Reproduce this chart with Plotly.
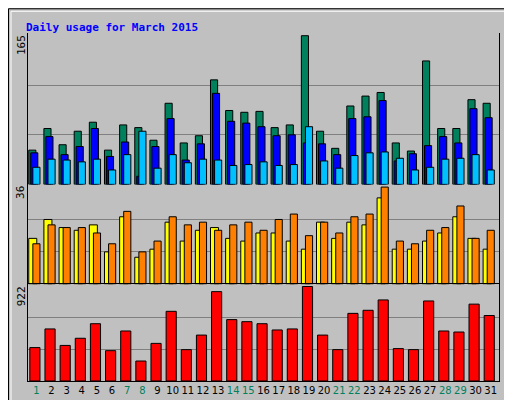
import plotly.graph_objects as go

days = list(range(1, 32))
weekend = [1, 7, 8, 14, 15, 21, 22, 28, 29]

hits = [38, 62, 44, 59, 69, 38, 66, 63, 49, 90, 46, 54, 116, 82, 80, 81,
        63, 66, 165, 59, 40, 87, 98, 102, 46, 37, 137, 62, 62, 94, 90]
files = [35, 53, 33, 42, 62, 31, 47, 9, 42, 73, 27, 45, 101, 70, 68, 64,
         54, 55, 46, 45, 33, 73, 75, 93, 26, 34, 43, 53, 46, 84, 74]
pages = [19, 28, 27, 25, 28, 16, 33, 59, 18, 33, 24, 28, 27, 21, 22, 25,
         21, 22, 64, 26, 18, 32, 35, 36, 29, 16, 19, 28, 29, 33, 16]
sites = [17, 24, 21, 20, 22, 12, 25, 10, 13, 23, 16, 20, 21, 17, 16, 19,
         19, 16, 13, 23, 17, 23, 22, 32, 13, 13, 16, 19, 25, 17, 13]
visits = [15, 22, 21, 21, 19, 15, 27, 12, 16, 25, 22, 23, 20, 22, 23, 20,
          24, 26, 18, 23, 19, 25, 26, 36, 16, 15, 20, 21, 29, 17, 20]
kbytes = [326, 508, 347, 417, 559, 296, 488, 195, 367, 680, 306, 448, 872, 599, 579, 559,
          498, 508, 922, 448, 306, 660, 690, 791, 316, 306, 781, 488, 478, 750, 639]

GREEN = "#00805C"
line = dict(color="black", width=1)

fig = go.Figure()
def bars(vals, color, off, w, axis):
    fig.add_trace(go.Bar(x=days, y=vals, offset=off, width=w, marker_color=color,
                         marker_line=line, xaxis="x", yaxis=axis, hoverinfo="y"))

bars(hits, GREEN, -0.5, 0.47, "y")
bars(files, "#0000FF", -0.37, 0.47, "y")
bars(pages, "#00C0FF", -0.23, 0.47, "y")
bars(sites, "#FFFF00", -0.5, 0.53, "y2")
bars(visits, "#FF8000", -0.23, 0.47, "y2")
bars(kbytes, "#FF0000", -0.43, 0.67, "y3")

ticktext = [f"<span style='color:{GREEN}'>{d}</span>" if d in weekend else str(d) for d in days]

yax = dict(showticklabels=False, showgrid=True, gridcolor="#808080", gridwidth=1,
           zeroline=False, showline=True, linecolor="black", mirror=True, ticks="")
fig.update_layout(
    width=512, height=400, barmode="overlay", showlegend=False,
    paper_bgcolor="#C0C0C0", plot_bgcolor="#C0C0C0",
    margin=dict(l=20, r=21, t=25, b=23),
    xaxis=dict(range=[0.45, 31.55], tickvals=days, ticktext=ticktext, showline=True,
               linecolor="black", mirror=True, showgrid=False, ticks="", tickangle=0,
               tickfont=dict(family="DejaVu Sans", size=10, color="black"), anchor="y3"),
    yaxis=dict(yax, domain=[0.565, 1], range=[0, 168], tickvals=[55, 110]),
    yaxis2=dict(yax, domain=[0.278, 0.565], range=[0, 37], tickvals=[12, 24]),
    yaxis3=dict(yax, domain=[0, 0.278], range=[0, 944], tickvals=[307, 615]),
    title=dict(text="<b>Daily usage for March 2015</b>", x=0.035, y=0.963, xanchor="left",
               font=dict(family="DejaVu Sans Mono", size=11, color="#0000FF")),
    font=dict(family="DejaVu Sans Mono"),
)

def side(text, y, yanchor="top", x=1 + 10 / 471, size=10):
    fig.add_annotation(text=text, xref="paper", yref="paper", x=x, y=y, textangle=-90,
                       showarrow=False, xanchor="center", yanchor=yanchor,
                       font=dict(size=size, family="DejaVu Sans Mono", color="black"))

side("<span style='color:#00C0FF'>Pages</span><span style='color:black'>/</span>"
     "<span style='color:#0000FF'>Files</span><span style='color:black'>/</span>"
     f"<span style='color:{GREEN}'>Hits</span>", 1.0)
side("<span style='color:#FF8000'>Sites</span><span style='color:black'>/</span>"
     "<span style='color:#FFFF00'>Visits</span>", 0.565)
side("<span style='color:#FF0000'>KBytes</span>", 0.0, "bottom")
side("165", 1.0, x=-7 / 471, size=11)
side("36", 0.565, x=-7 / 471, size=11)
side("922", 0.278, x=-7 / 471, size=11)

# outer frame
fig.add_shape(type="rect", xref="paper", yref="paper", x0=-19.5 / 471, x1=1 + 20 / 471,
              y0=-22.5 / 352, y1=1 + 24.5 / 352, line=dict(color="black", width=1))
fig.add_shape(type="rect", xref="paper", yref="paper", x0=-17 / 471, x1=1 + 17.5 / 471,
              y0=-20 / 352, y1=1 + 22 / 352, line=dict(color="white", width=1))

fig.write_html("out.html")
